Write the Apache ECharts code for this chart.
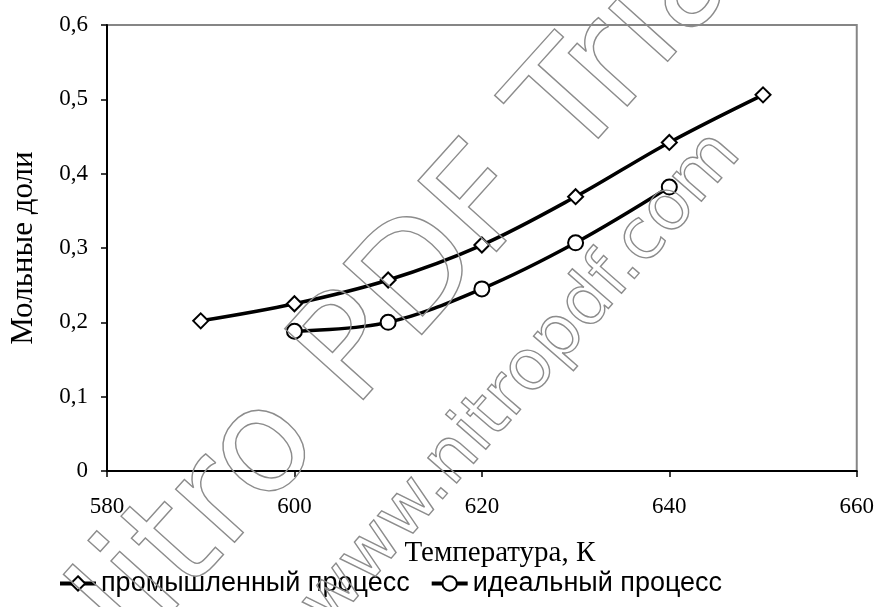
<!DOCTYPE html>
<html>
<head>
<meta charset="utf-8">
<script src="https://cdn.jsdelivr.net/npm/echarts@6/dist/echarts.min.js"></script>
<style>
html,body{margin:0;padding:0;background:#fff;}
#chart{width:877px;height:607px;}
</style>
</head>
<body>
<div id="chart"></div>
<script>
// Data
const seriesNames = ['промышленный процесс', 'идеальный процесс'];
const xIndustrial = [590, 600, 610, 620, 630, 640, 650];
const yIndustrial = [0.202, 0.225, 0.257, 0.304, 0.369, 0.442, 0.506];
const xIdeal = [600, 610, 620, 630, 640];
const yIdeal = [0.188, 0.200, 0.245, 0.307, 0.382];
const xAxisTitle = 'Температура, К';
const yAxisTitle = 'Мольные доли';
const watermark1 = 'Nitro PDF Trial';
const watermark2 = 'www.nitropdf.com';

const pairs = (xs, ys) => xs.map((x, i) => [x, ys[i]]);
const fmt = v => v === 0 ? '0' : String(v.toFixed(1)).replace('.', ',');

const chart = echarts.init(document.getElementById('chart'));
const serif = '"Liberation Serif", "Times New Roman", serif';
const sans = '"Liberation Sans", Arial, sans-serif';

chart.setOption({
  animation: false,
  backgroundColor: '#fff',
  grid: {
    left: 105, right: 17, top: 25, bottom: 136,
    show: true, borderColor: '#868686', borderWidth: 2, backgroundColor: 'transparent'
  },
  xAxis: {
    type: 'value', min: 580, max: 660, interval: 20,
    name: xAxisTitle, nameLocation: 'middle', nameGap: 68,
    nameTextStyle: { fontFamily: serif, fontSize: 29, color: '#000', padding: [0, 0, 0, 36] },
    axisLine: { show: true, lineStyle: { color: '#000', width: 2 } },
    axisTick: { show: true, inside: false, length: 6, lineStyle: { color: '#000', width: 1.5 } },
    axisLabel: { fontFamily: serif, fontSize: 23, color: '#000', margin: 24 },
    splitLine: { show: false }
  },
  yAxis: {
    type: 'value', min: 0, max: 0.6, interval: 0.1,
    name: yAxisTitle, nameLocation: 'middle', nameGap: 68,
    nameTextStyle: { fontFamily: serif, fontSize: 31, color: '#000' },
    axisLine: { show: true, lineStyle: { color: '#000', width: 2 } },
    axisTick: { show: true, inside: false, length: 6, lineStyle: { color: '#000', width: 1.5 } },
    axisLabel: { fontFamily: serif, fontSize: 23, color: '#000', margin: 19, formatter: fmt },
    splitLine: { show: false }
  },
  legend: {
    left: 58, top: 570, padding: 0,
    itemWidth: 36, itemHeight: 18, itemGap: 20,
    lineStyle: { width: 4 },
    textStyle: { fontFamily: sans, fontSize: 27, color: '#000' },
    data: seriesNames
  },
  series: [
    {
      name: seriesNames[0], type: 'line', smooth: 0.35,
      data: pairs(xIndustrial, yIndustrial),
      symbol: 'diamond', symbolSize: 15,
      lineStyle: { color: '#000', width: 3.5 },
      itemStyle: { color: '#fff', borderColor: '#000', borderWidth: 2 },
      z: 3
    },
    {
      name: seriesNames[1], type: 'line', smooth: 0.35,
      data: pairs(xIdeal, yIdeal),
      symbol: 'circle', symbolSize: 15,
      lineStyle: { color: '#000', width: 3.5 },
      itemStyle: { color: '#fff', borderColor: '#000', borderWidth: 2 },
      z: 3
    }
  ],
  graphic: [
    {
      type: 'text', x: 402, y: 300, rotation: 48 * Math.PI / 180, silent: true, z: 100,
      style: {
        text: watermark1, font: '145px "DejaVu Sans", sans-serif',
        fill: 'none', stroke: '#8c8c8c', lineWidth: 1.4,
        align: 'center', verticalAlign: 'middle'
      }
    },
    {
      type: 'text', x: 522, y: 380, rotation: 49 * Math.PI / 180, silent: true, z: 100,
      style: {
        text: watermark2, font: '70px "DejaVu Sans", sans-serif',
        fill: 'none', stroke: '#8c8c8c', lineWidth: 1.4,
        align: 'center', verticalAlign: 'middle'
      }
    }
  ]
});
</script>
</body>
</html>
